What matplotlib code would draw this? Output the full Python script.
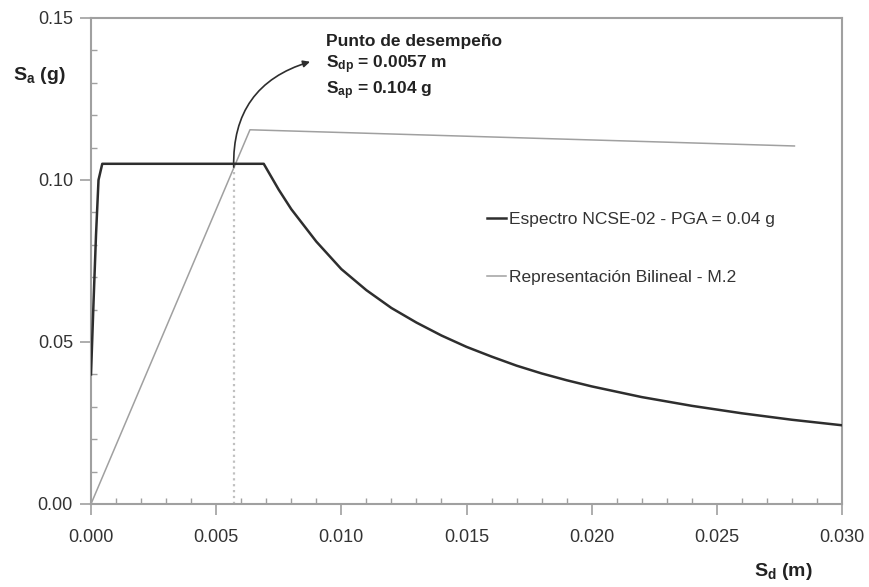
import matplotlib
matplotlib.use("Agg")
import matplotlib.pyplot as plt
from matplotlib.ticker import MultipleLocator, FormatStrFormatter

plt.rcParams['font.family'] = ['Liberation Sans', 'DejaVu Sans']
plt.rcParams['mathtext.default'] = 'regular'

# Espectro NCSE-02 (ADRS)
sd_spec = [0.0, 0.0001, 0.0002, 0.0003, 0.00045, 0.0069, 0.0075, 0.008, 0.009,
           0.010, 0.011, 0.012, 0.013, 0.014, 0.015, 0.016, 0.017, 0.018,
           0.019, 0.020, 0.022, 0.024, 0.026, 0.028, 0.030]
sa_spec = [0.040, 0.062, 0.083, 0.100, 0.105, 0.105, 0.097, 0.091, 0.081,
           0.0725, 0.066, 0.0605, 0.056, 0.052, 0.0485, 0.0455, 0.0427, 0.0403,
           0.0382, 0.0363, 0.033, 0.0303, 0.028, 0.026, 0.0243]

# Representacion bilineal - M.2
sd_bil = [0.0, 0.00635, 0.0281]
sa_bil = [0.0, 0.1155, 0.1105]

# punto de desempeno
sd_p = 0.0057
sa_p = 0.104
arrow_end = (0.00875, 0.1365)

fig = plt.figure(figsize=(8.7, 5.87), dpi=100)
ax = fig.add_axes([91 / 870, 83 / 587, 751 / 870, 486 / 587])

ax.plot(sd_spec, sa_spec, color='#2e2e2e', lw=1.8, zorder=3,
        label='Espectro NCSE-02 - PGA = 0.04 g')
ax.plot(sd_bil, sa_bil, color='#a0a0a0', lw=1.1, zorder=2,
        label='Representación Bilineal - M.2')
ax.plot([sd_p, sd_p], [0, sa_p], color='#c0c0c0', ls=':', lw=1.6, zorder=1)

ax.annotate('', xy=arrow_end, xytext=(sd_p, sa_p),
            arrowprops=dict(arrowstyle='-|>', color='#2e2e2e', lw=1.2,
                            mutation_scale=10, shrinkA=0, shrinkB=0,
                            connectionstyle='arc3,rad=-0.38'))

txt = dict(fontsize=12.5, fontweight='bold', color='#222222', va='center')
ax.text(0.0094, 0.1428, 'Punto de desempeño', **txt)
ax.text(0.0094, 0.1355, 'S$_{dp}$ = 0.0057 m', **txt)
ax.text(0.0094, 0.1275, 'S$_{ap}$ = 0.104 g', **txt)

ax.set_xlim(0, 0.030)
ax.set_ylim(0, 0.15)
ax.xaxis.set_major_locator(MultipleLocator(0.005))
ax.xaxis.set_minor_locator(MultipleLocator(0.001))
ax.yaxis.set_major_locator(MultipleLocator(0.05))
ax.yaxis.set_minor_locator(MultipleLocator(0.01))
ax.xaxis.set_major_formatter(FormatStrFormatter('%.3f'))
ax.yaxis.set_major_formatter(FormatStrFormatter('%.2f'))

for s in ax.spines.values():
    s.set_color('#a0a0a0')
    s.set_linewidth(1.5)
ax.tick_params(which='major', direction='out', length=8, width=1.2,
               color='#a0a0a0', labelsize=13, labelcolor='#333333', pad=5)
ax.tick_params(which='minor', direction='in', length=4, width=1,
               color='#a0a0a0')
ax.tick_params(axis='x', pad=10)

leg = ax.legend(loc='upper left', bbox_to_anchor=(0.506, 0.634), frameon=False,
                handlelength=1.1, handletextpad=0.2, labelspacing=2.5,
                fontsize=12.5)
for t in leg.get_texts():
    t.set_color('#333333')

fig.text(13 / 870, 1 - 75 / 587, 'S$_{a}$ (g)', fontsize=14, fontweight='bold',
         color='#222222', va='center', ha='left')
fig.text(783 / 870, 1 - 572 / 587, 'S$_{d}$ (m)', fontsize=14, fontweight='bold',
         color='#222222', va='center', ha='center')

fig.savefig('out.png', dpi=100, facecolor='white')
